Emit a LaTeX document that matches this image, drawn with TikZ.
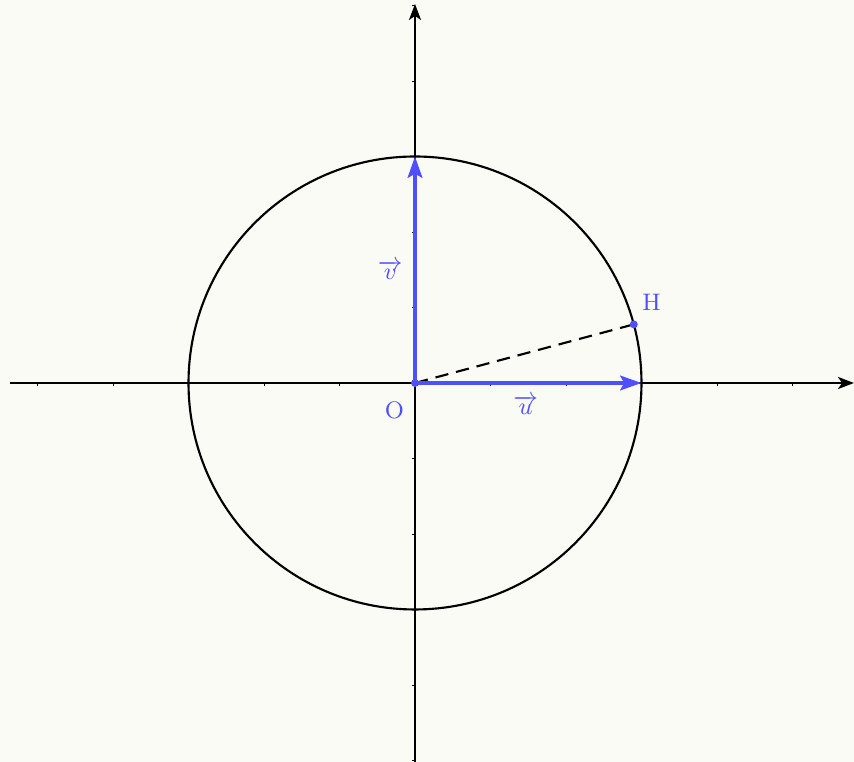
\documentclass[tikz,border=0pt]{standalone}
\usepackage{amsmath}
\usetikzlibrary{positioning, arrows.meta, calc}
\definecolor{bgPage}{HTML}{FAFBF5}
\definecolor{vecBlue}{HTML}{4F4FFF}
\definecolor{axisBlack}{HTML}{000000}
\tikzset{
  axisline/.style={
    -{Stealth[length=6pt, width=4.5pt, inset=1.5pt]}, line width=1pt, color=axisBlack,
  },
  tickmark/.style={
    line width=0.3pt, color=axisBlack,
  },
  unitcircle/.style={
    line width=0.8pt, color=axisBlack,
  },
  vecarrow/.style={
    -{Stealth[length=8pt, width=5.5pt, inset=1.5pt]}, line width=1.4pt, color=vecBlue,
  },
  dashline/.style={
    dashed, dash pattern=on 5pt off 3pt, line width=0.8pt, color=axisBlack,
  },
  ptdot/.style={
    circle, fill=vecBlue, inner sep=0pt, minimum size=3pt,
  },
  ptlabel/.style={
    text=vecBlue, font=\small, inner sep=1pt,
  },
}

\begin{document}
\begin{tikzpicture}

  % === Page frame ===
  \fill[bgPage] (-5.497,-5.02) rectangle (5.815,5.073);
  \useasboundingbox (-5.497,-5.02) rectangle (5.815,5.073);

  % === Points ===
  \coordinate (O) at (0,0);
  \coordinate (uEnd) at (3,0);
  \coordinate (vEnd) at (0,3);
  \coordinate (xStart) at (-5.36,0);
  \coordinate (xEnd) at (5.815,0);
  \coordinate (yStart) at (0,-5.02);
  \coordinate (yEnd) at (0,5.02);
  \coordinate (H) at (15:3);

  % === Axes and ticks ===
  \draw[axisline] (xStart) -- (xEnd);
  \draw[axisline] (yStart) -- (yEnd);
  \foreach \k in {-5,-4,-3,-2,-1,1,2,3,4,5} {
    \draw[tickmark] (\k,0) -- ++(0,-0.045);
    \draw[tickmark] (0,\k) -- ++(-0.045,0);
  }

  % === Circle ===
  \draw[unitcircle] (O) circle[radius=3];

  % === OH segment ===
  \draw[dashline] (O) -- (H);

  % === Basis vectors ===
  \draw[vecarrow] (O) -- node[ptlabel, below=3pt, xshift=-1pt] {$\overrightarrow{u}$} (uEnd);
  \draw[vecarrow] (O) -- node[ptlabel, left=3pt] {$\overrightarrow{v}$} (vEnd);

  % === Dots and labels ===
  \node[ptdot] (dotO) at (O) {};
  \node[ptdot] (dotH) at (H) {};
  \node[ptlabel, below left=6pt and 3pt of O] (labO) {O};
  \node[ptlabel, above right=4pt and 2pt of H] (labH) {H};

\end{tikzpicture}
\end{document}
